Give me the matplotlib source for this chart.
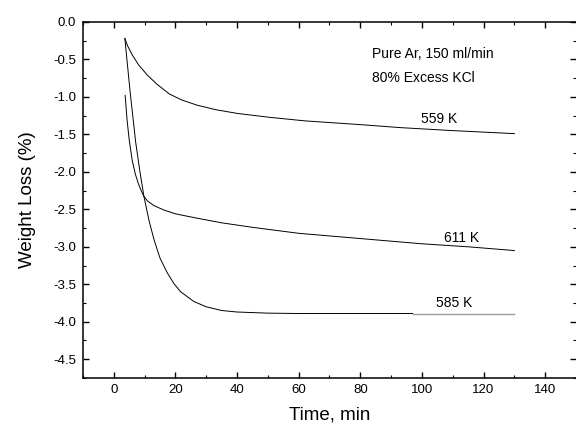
import matplotlib
matplotlib.use("Agg")
import matplotlib.pyplot as plt
from matplotlib.ticker import MultipleLocator
import numpy as np

plt.rcParams['font.family'] = ['Liberation Sans', 'DejaVu Sans']
plt.rcParams['axes.unicode_minus'] = False

# weight loss curves (time in min, weight loss in %)
t_559 = [3.6, 4.5, 6, 8, 10.9, 14, 18, 22, 27, 33, 40, 50, 62, 80, 93, 110, 130]
w_559 = [-0.22, -0.32, -0.44, -0.57, -0.71, -0.83, -0.96, -1.04, -1.11, -1.17,
         -1.22, -1.27, -1.32, -1.37, -1.41, -1.45, -1.49]

t_611 = [3.7, 4.3, 5.0, 6, 7, 8, 9, 9.8, 11, 13, 16.3, 20, 26, 35, 45, 60, 80,
         100, 115, 130]
w_611 = [-0.98, -1.3, -1.57, -1.85, -2.03, -2.16, -2.26, -2.33, -2.39, -2.45,
         -2.51, -2.56, -2.61, -2.68, -2.74, -2.82, -2.89, -2.96, -3.0, -3.05]

t_585 = [3.6, 5.3, 7.1, 8.5, 9.8, 11.5, 13.1, 15, 17.4, 19.5, 21.7, 26, 30, 35,
         40, 50, 60, 80, 97, 130]
w_585 = [-0.22, -0.93, -1.6, -2.0, -2.33, -2.66, -2.91, -3.15, -3.35, -3.49,
         -3.6, -3.73, -3.8, -3.85, -3.87, -3.885, -3.89, -3.89, -3.89, -3.89]

labels = ["559 K", "611 K", "585 K"]

fig = plt.figure(figsize=(5.76, 4.3), dpi=100)
ax = fig.add_axes([0.144, 0.121, 0.856, 0.828])

lw = 0.7
ax.plot(t_559, w_559, color='black', lw=lw)
ax.plot(t_611, w_611, color='black', lw=lw)
# the tail of the 585 K trace is printed lighter in the original
t585 = np.array(t_585)
w585 = np.array(w_585)
k = np.searchsorted(t585, 97) + 1
ax.plot(t585[:k], w585[:k], color='black', lw=lw)
ax.plot(t585[k - 1:], w585[k - 1:], color='#9a9a9a', lw=1.0)

ax.text(105.6, -1.29, labels[0], ha='center', va='center', fontsize=10)
ax.text(113, -2.88, labels[1], ha='center', va='center', fontsize=10)
ax.text(110.5, -3.75, labels[2], ha='center', va='center', fontsize=10)
ax.text(83.8, -0.43, "Pure Ar, 150 ml/min", ha='left', va='center', fontsize=10)
ax.text(83.8, -0.75, "80% Excess KCl", ha='left', va='center', fontsize=10)

ax.set_xlim(-10, 150)
ax.set_ylim(-4.75, 0)
ax.xaxis.set_major_locator(MultipleLocator(20))
ax.xaxis.set_minor_locator(MultipleLocator(10))
ax.yaxis.set_major_locator(MultipleLocator(0.5))
ax.yaxis.set_minor_locator(MultipleLocator(0.25))
ax.set_xticks(np.arange(0, 141, 20))
ax.yaxis.set_major_formatter(plt.FormatStrFormatter('%.1f'))

ax.tick_params(which='both', direction='in', top=True, right=True, labelsize=9.5)
ax.tick_params(which='major', length=4, width=1.0)
ax.tick_params(which='minor', length=2.5, width=0.8)
ax.tick_params(axis='y', pad=5)
ax.tick_params(axis='x', pad=4)
for s in ['left', 'top', 'bottom']:
    ax.spines[s].set_linewidth(1.1)
ax.spines['right'].set_visible(False)

ax.set_xlabel("Time, min", fontsize=13.5, labelpad=8)
ax.set_ylabel("Weight Loss (%)", fontsize=13.5, labelpad=12)

fig.savefig("out.png", dpi=100)
